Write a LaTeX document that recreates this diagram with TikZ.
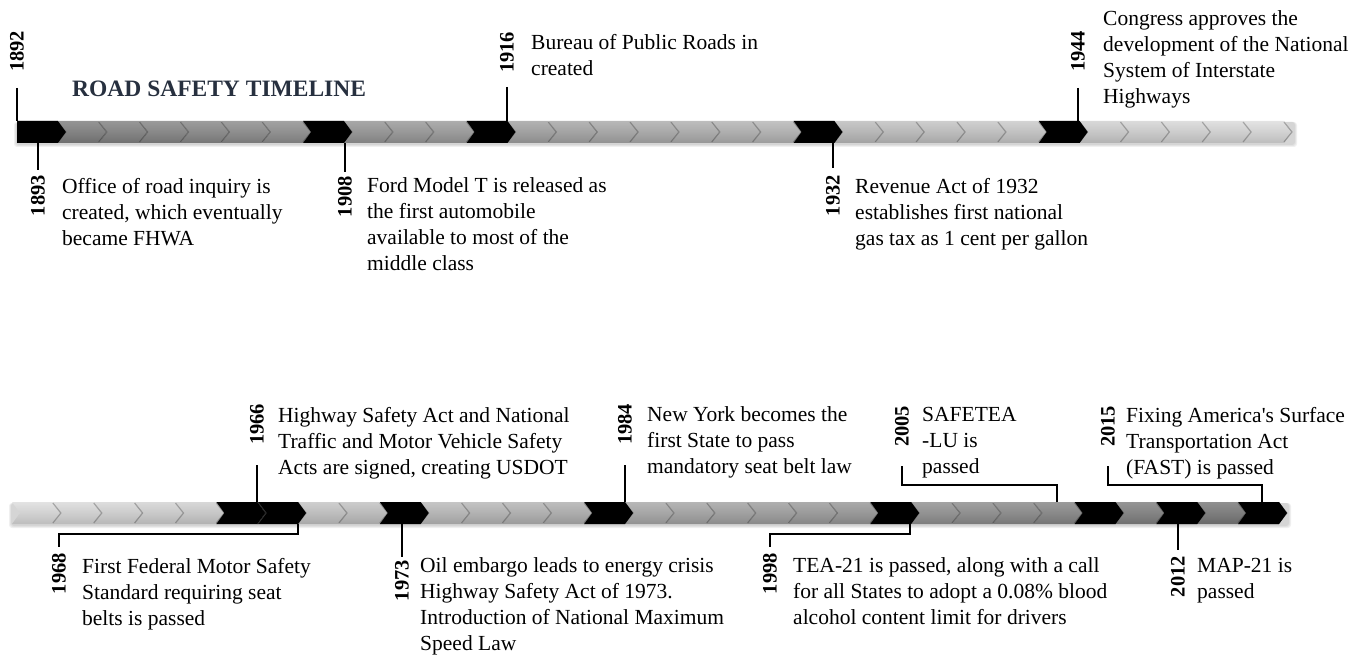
\documentclass[tikz,border=0pt]{standalone}
\usepackage{fontspec}
\setmainfont{Liberation Serif}
\newcommand\txtfont{\fontsize{21.5}{26}\selectfont}
\newcommand\yrfont{\fontsize{20.5}{24}\selectfont\bfseries}
\newcommand\ttlfont{\fontsize{23.5}{28}\selectfont\bfseries}
\definecolor{titlec}{HTML}{27303F}
\begin{document}
\begin{tikzpicture}[x=1pt,y=-1pt,
  desc/.style={anchor=north west, inner sep=0pt, align=left, font=\txtfont, execute at begin node=\strut},
  yr/.style={rotate=90, inner sep=0pt, font=\yrfont},
  conn/.style={line width=1.1pt, black},
  tipline/.style={black, opacity=.25, line width=1.2pt},
]
\useasboundingbox (0,0) rectangle (1369,658);

% soft shadows under the bars
\foreach \T/\B/\xl/\xr in {121/143/17/1294, 502/524/12/1288}{
  \foreach \g in {1,2,3}{
    \fill[black, opacity=.06, rounded corners=3pt] (\xl-\g,\T+1) rectangle (\xr+\g,\B+1+\g);
  }
}

% chevron bars
\foreach \xo/\T/\B/\Mid/\vs/\ve/\flat in {17/121/143/132/0.50/0.82/1, 12/502/524/513/0.82/0.48/0}{
  \foreach \k in {0,...,30}{
    \pgfmathsetmacro\xa{\xo+40.87*\k}
    \pgfmathsetmacro\xb{\xa+40.87}
    \pgfmathsetmacro\xc{\xb+8}
    \pgfmathsetmacro\v{\vs+(\ve-\vs)*\k/30}
    \pgfmathsetmacro\vt{min(\v+0.07,1)}
    \pgfmathsetmacro\vb{\v-0.08}
    \definecolor{cm}{gray}{\v}\definecolor{ct}{gray}{\vt}\definecolor{cb}{gray}{\vb}
    \pgfmathsetmacro\notch{\xa+8*(1-\flat*(\k==0))}
    \shade[top color=ct, bottom color=cb, middle color=cm]
      (\xa,\T) -- (\xb,\T) -- (\xc,\Mid) -- (\xb,\B) -- (\xa,\B) -- (\notch,\Mid) -- cycle;
  }
  \foreach \k in {0,...,30}{
    \pgfmathsetmacro\xb{\xo+40.87*\k+40.87}
    \pgfmathsetmacro\xc{\xb+8}
    \draw[tipline] (\xb,\T+1) -- (\xc,\Mid) -- (\xb,\B-1);
  }
}
% black segments, top bar
\foreach \k in {0,7,11,19,25}{
  \pgfmathsetmacro\xa{17+40.87*\k}
  \pgfmathsetmacro\xb{\xa+40.87}
  \pgfmathsetmacro\xc{\xb+8}
  \pgfmathsetmacro\notch{\xa+8*(\k>0)}
  \fill[black] (\xa,121) -- (\xb,121) -- (\xc,132) -- (\xb,143) -- (\xa,143) -- (\notch,132) -- cycle;
}
% black segments, bottom bar
\foreach \k in {5,6,9,14,21,26,28,30}{
  \pgfmathsetmacro\xa{12+40.87*\k}
  \pgfmathsetmacro\xb{\xa+40.87}
  \pgfmathsetmacro\xc{\xb+8}
  \pgfmathsetmacro\notch{\xa+8}
  \fill[black] (\xa,502) -- (\xb,502) -- (\xc,513) -- (\xb,524) -- (\xa,524) -- (\notch,513) -- cycle;
}
\draw[gray!40!black, line width=.8pt] (258.2,502.5) -- (266.2,513) -- (258.2,523.5);

% title
\node[anchor=base west, font=\ttlfont, text=titlec, inner sep=0pt] (title) at (72,97) {ROAD SAFETY TIMELINE};

% ---- top events ----
\coordinate (s1892) at (17,121);
\node[yr, anchor=west] (y1892) at (17,72) {1892};
\draw[conn, shorten <=16pt] (y1892.west) -- (s1892);

\coordinate (s1893) at (38,143);
\node[yr, anchor=east] (y1893) at (38,175) {1893};
\node[desc] (t1893) at (62,177.8) {Office of road inquiry is\\created, which eventually\\became FHWA};
\draw[conn, shorten >=5pt] (s1893) -- (y1893.east);

\coordinate (s1908) at (345,143);
\node[yr, anchor=east] (y1908) at (345,176) {1908};
\node[desc] (t1908) at (367,177.8) {Ford Model T is released as\\the first automobile\\available to most of the\\middle class};
\draw[conn, shorten >=4pt] (s1908) -- (y1908.east);

\coordinate (s1916) at (507,121);
\node[yr, anchor=west] (y1916) at (507,73) {1916};
\node[desc] (t1916) at (531,33.8) {Bureau of Public Roads in\\created};
\draw[conn, shorten <=14pt] (y1916.west) -- (s1916);

\coordinate (s1932) at (833,143);
\node[yr, anchor=east] (y1932) at (833,175) {1932};
\node[desc] (t1932) at (855,177.8) {Revenue Act of 1932\\establishes first national\\gas tax as 1 cent per gallon};
\draw[conn, shorten >=7pt] (s1932) -- (y1932.east);

\coordinate (s1944) at (1078,121);
\node[yr, anchor=west] (y1944) at (1078,72) {1944};
\node[desc] (t1944) at (1103,10.5) {Congress approves the\\development of the National\\System of Interstate\\Highways};
\draw[conn, shorten <=16pt] (y1944.west) -- (s1944);

% ---- bottom events ----
\coordinate (s1966) at (257,502);
\node[yr, anchor=west] (y1966) at (257,445) {1966};
\node[desc] (t1966) at (278,406.8) {Highway Safety Act and National\\Traffic and Motor Vehicle Safety\\Acts are signed, creating USDOT};
\draw[conn, shorten <=20pt] (y1966.west) -- (s1966);

\coordinate (s1968) at (298,524);
\coordinate (e1968) at (59,534);
\node[yr, anchor=east] (y1968) at (59,553) {1968};
\node[desc] (t1968) at (82,557.8) {First Federal Motor Safety\\Standard requiring seat\\belts is passed};
\draw[conn, shorten >=6pt] (s1968) |- (e1968) -- (y1968.east);

\coordinate (s1973) at (402,524);
\node[yr, anchor=east] (y1973) at (402,560) {1973};
\node[desc] (t1973) at (420,557.8) {Oil embargo leads to energy crisis\\Highway Safety Act of 1973.\\Introduction of National Maximum\\Speed Law};
\draw[conn, shorten >=3pt] (s1973) -- (y1973.east);

\coordinate (s1984) at (625,502);
\node[yr, anchor=west] (y1984) at (625,445) {1984};
\node[desc] (t1984) at (647,406.8) {New York becomes the\\first State to pass\\mandatory seat belt law};
\draw[conn, shorten <=20pt] (y1984.west) -- (s1984);

\coordinate (s1998) at (910,524);
\coordinate (e1998) at (770,534);
\node[yr, anchor=east] (y1998) at (770,553) {1998};
\node[desc] (t1998) at (793,557.8) {TEA-21 is passed, along with a call\\for all States to adopt a 0.08\% blood\\alcohol content limit for drivers};
\draw[conn, shorten >=6pt] (s1998) |- (e1998) -- (y1998.east);

\coordinate (s2005) at (1057,502);
\coordinate (e2005) at (902,485);
\node[yr, anchor=west] (y2005) at (902,447) {2005};
\node[desc] (t2005) at (922,406.8) {SAFETEA\\-LU is\\passed};
\draw[conn, shorten >=19pt] (s2005) |- (e2005) -- (y2005.west);

\coordinate (s2012) at (1178,524);
\node[yr, anchor=east] (y2012) at (1178,556) {2012};
\node[desc] (t2012) at (1197,557.8) {MAP-21 is\\passed};
\draw[conn, shorten >=6pt] (s2012) -- (y2012.east);

\coordinate (s2015) at (1262,502);
\coordinate (e2015) at (1108,485);
\node[yr, anchor=west] (y2015) at (1108,447) {2015};
\node[desc] (t2015) at (1126,406.8) {Fixing America\textquotesingle s Surface\\Transportation Act\\(FAST) is passed};
\draw[conn, shorten >=19pt] (s2015) |- (e2015) -- (y2015.west);
\end{tikzpicture}
\end{document}
